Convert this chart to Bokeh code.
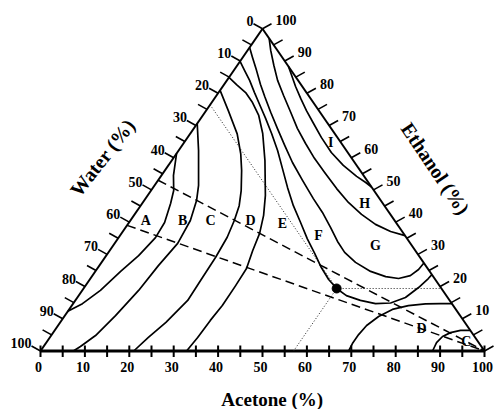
import numpy as np
from bokeh.plotting import figure
from bokeh.models import Range1d
from bokeh.core.properties import value
from bokeh.embed import file_html
from bokeh.resources import INLINE

# ---------------- data (ternary compositions, % acetone / % ethanol) ----------------
ab_acetone = [0.0, 2.7, 5.1, 6.4, 8.0, 8.3, 7.3, 5.7, 4.1, 2.1, 0.0]
ab_ethanol = [61.3, 54.5, 49.8, 45.8, 39.9, 35.2, 29.6, 24.7, 18.8, 14.7, 12.3]

bc_acetone = [0.0, 4.5, 9.9, 11.8, 13.5, 14.2, 13.3, 12.7, 11.4, 10.0, 8.3, 7.4]
bc_ethanol = [70.6, 62.2, 51.4, 46.7, 40.5, 33.4, 26.5, 18.8, 11.0, 4.8, 1.4, 0.0]

cd_acetone = [0.0, 5.0, 10.6, 14.5, 17.3, 20.3, 22.2, 23.4, 24.4, 24.9, 25.1, 25.3, 23.8, 22.2, 21.0]
cd_ethanol = [80.9, 74.6, 67.4, 61.2, 56.0, 49.8, 45.1, 40.5, 35.3, 29.1, 21.9, 15.7, 8.9, 4.2, 0.0]

de_acetone = [0.0, 2.8, 6.1, 9.2, 12.6, 16.3, 21.0, 26.5, 29.2, 31.1, 32.2, 33.6, 33.8, 33.9, 33.5, 33.3, 32.9]
de_ethanol = [84.9, 82.7, 80.2, 77.1, 73.1, 67.5, 59.1, 48.3, 42.1, 36.5, 31.2, 25.6, 20.3, 14.1, 9.5, 4.2, 0.0]

ef_acetone = [0.0, 2.4, 5.1, 8.1, 11.1, 14.6, 18.3, 22.3, 26.2, 30.3, 34.4, 38.7, 42.7, 46.6,
              50.3, 53.8, 57.0, 60.3, 64.2, 68.1, 71.4, 73.9, 75.3, 76.1, 76.3]
ef_ethanol = [89.9, 87.1, 84.0, 80.2, 76.5, 72.2, 67.5, 62.2, 56.6, 50.7, 45.1, 39.8, 34.8, 30.3,
              25.9, 22.2, 19.4, 17.2, 15.7, 14.7, 14.9, 16.6, 19.7, 22.5, 23.7]

fg_acetone = [0.0, 2.2, 5.1, 8.2, 11.0, 14.8, 18.8, 23.1, 27.5, 32.6, 37.8, 42.0, 46.2, 49.9,
              53.2, 57.2, 62.0, 66.2, 69.4, 71.6, 72.5, 72.7]
fg_ethanol = [94.2, 91.1, 87.1, 82.7, 79.0, 74.1, 69.1, 63.8, 58.5, 52.9, 47.3, 43.0, 38.3, 34.0,
              30.6, 27.5, 24.7, 23.1, 22.5, 23.4, 25.3, 27.3]

gh_acetone = [3.0, 5.2, 8.2, 11.4, 15.1, 19.3, 23.3, 27.5, 31.8, 36.3, 41.5, 46.3, 51.1, 55.8, 60.3, 64.2]
gh_ethanol = [97.0, 93.3, 88.7, 84.0, 79.3, 74.1, 69.1, 64.4, 59.8, 55.4, 50.4, 46.1, 42.4, 39.3, 37.1, 35.8]

hi_acetone = [11.7, 13.6, 16.4, 19.4, 22.6, 26.2, 30.1, 34.7, 39.4, 44.1, 47.1, 49.1]
hi_ethanol = [88.3, 85.8, 82.1, 78.4, 74.6, 70.6, 66.3, 61.6, 57.6, 54.2, 52.3, 50.9]

d2_acetone = [69.4, 69.1, 69.1, 69.5, 70.8, 72.8, 75.8, 79.4, 82.7, 85.3]
d2_ethanol = [0.0, 2.3, 5.1, 7.9, 10.7, 12.9, 14.1, 14.6, 14.7, 14.7]

c2_acetone = [88.3, 87.9, 88.3, 89.5, 91.4, 93.6]
c2_ethanol = [0.0, 2.6, 4.5, 5.7, 6.4, 6.4]

# dashed lines: from the water-ethanol side to pure acetone
dash_start_ethanol = [53.0, 39.0]

# marked point
dot_acetone = 57.0
dot_ethanol = 19.4

# region labels
region_names = ["A", "B", "C", "D", "E", "F", "G", "H", "I", "D", "C"]
region_acetone = [3.5, 11.8, 18.1, 27.1, 34.7, 44.7, 59.1, 50.1, 33.0, 82.3, 94.4]
region_ethanol = [40.4, 40.4, 40.4, 40.4, 39.6, 35.8, 32.7, 45.8, 64.7, 7.0, 3.0]

tick_values = list(range(0, 101, 5))
label_values = list(range(0, 101, 10))

# ---------------- figure ----------------
W, H = 494, 409
SX = 4.44
SY = 3.222
X0 = -40.0 / SX
X1 = X0 + W / SX
Y1 = 100 + 28.3 / SY
Y0 = Y1 - H / SY


def cart(a, e):
    a = np.asarray(a, float)
    e = np.asarray(e, float)
    return a + e / 2.0, e


def px2data(px, py):
    return X0 + px / SX, Y1 - py / SY


p = figure(width=W, height=H, x_range=Range1d(X0, X1), y_range=Range1d(Y0, Y1),
           output_backend="svg", toolbar_location=None, min_border=0,
           x_axis_type=None, y_axis_type=None)
p.outline_line_color = None
p.background_fill_color = "white"
p.border_fill_color = "white"

FONT = value("Liberation Serif")
BLACK = "black"

# triangle
p.line([0, 50], [0, 100], line_color=BLACK, line_width=2)
p.line([50, 100], [100, 0], line_color=BLACK, line_width=2)
p.line([0, 100], [0, 0], line_color=BLACK, line_width=3)

# ticks
tv = np.asarray(tick_values, float)
p.segment(x0=tv, y0=np.full_like(tv, 5.5 / SY), x1=tv, y1=np.full_like(tv, -6.0 / SY),
          line_color=BLACK, line_width=2)
lx, ly = cart(np.zeros_like(tv), tv)
p.segment(x0=lx, y0=ly, x1=lx - 9 / SX, y1=ly + 5 / SY, line_color=BLACK, line_width=1.6)
rx, ry = cart(100 - tv, tv)
p.segment(x0=rx, y0=ry, x1=rx + 9 / SX, y1=ry + 5 / SY, line_color=BLACK, line_width=1.6)

# tick labels
lv = np.asarray(label_values, float)
p.text(x=lv, y=np.zeros_like(lv), text=[str(int(v)) for v in lv], text_font=FONT,
       text_font_style="bold", text_font_size="14px", text_align="center",
       text_baseline="middle", x_offset=-2, y_offset=16, text_color=BLACK)
wl_x, wl_y = cart(np.zeros_like(lv), 100 - lv)
p.text(x=wl_x, y=wl_y, text=[str(int(v)) for v in lv], text_font=FONT,
       text_font_style="bold", text_font_size="14px", text_align="right",
       text_baseline="middle", x_offset=-9, y_offset=-8, text_color=BLACK)
el = lv[1:]
el_x, el_y = cart(100 - el, el)
p.text(x=el_x, y=el_y, text=[str(int(v)) for v in el], text_font=FONT,
       text_font_style="bold", text_font_size="14px", text_align="left",
       text_baseline="middle", x_offset=13, y_offset=-9, text_color=BLACK)

# dashed lines
for es in dash_start_ethanol:
    xs, ys = cart([0.0, 100.0], [es, 0.0])
    p.line(xs, ys, line_color=BLACK, line_width=1.5, line_dash="9 5")

# dotted guide lines through the marked point
dot_water = 100 - dot_acetone - dot_ethanol
guides = [([dot_acetone, dot_acetone], [dot_ethanol, 0.0]),
          ([dot_acetone, 100 - dot_ethanol], [dot_ethanol, dot_ethanol]),
          ([dot_acetone, 0.0], [dot_ethanol, 100 - dot_water])]
for ga, ge in guides:
    xs, ys = cart(ga, ge)
    p.line(xs, ys, line_color="#222222", line_width=1, line_dash="1 2")

# contour lines
curves = [(ab_acetone, ab_ethanol), (bc_acetone, bc_ethanol), (cd_acetone, cd_ethanol),
          (de_acetone, de_ethanol), (ef_acetone, ef_ethanol), (fg_acetone, fg_ethanol),
          (gh_acetone, gh_ethanol), (hi_acetone, hi_ethanol), (d2_acetone, d2_ethanol),
          (c2_acetone, c2_ethanol)]
for ca, ce in curves:
    xs, ys = cart(ca, ce)
    p.line(xs, ys, line_color=BLACK, line_width=1.7, line_join="round")

# marked point
dx, dy = cart([dot_acetone], [dot_ethanol])
p.scatter(dx, dy, size=9, color=BLACK)

# region labels
rxl, ryl = cart(region_acetone, region_ethanol)
p.text(x=rxl, y=ryl, text=region_names, text_font=FONT, text_font_style="bold",
       text_font_size="14px", text_align="center", text_baseline="middle", text_color=BLACK)

# axis titles
ax_, ay_ = px2data(271.7, 398.5)
p.text(x=[ax_], y=[ay_], text=["Acetone (%)"], text_font=FONT, text_font_style="bold",
       text_font_size="19px", text_align="center", text_baseline="middle", text_color=BLACK)
wx_, wy_ = px2data(102, 157)
p.text(x=[wx_], y=[wy_], text=["Water (%)"], text_font=FONT, text_font_style="bold",
       text_font_size="20px", text_align="center", text_baseline="middle",
       angle=np.deg2rad(52), text_color=BLACK)
ex_, ey_ = px2data(435, 168)
p.text(x=[ex_], y=[ey_], text=["Ethanol (%)"], text_font=FONT, text_font_style="bold",
       text_font_size="20px", text_align="center", text_baseline="middle",
       angle=-np.deg2rad(56), text_color=BLACK)

open("out.html", "w").write(file_html(p, INLINE))
